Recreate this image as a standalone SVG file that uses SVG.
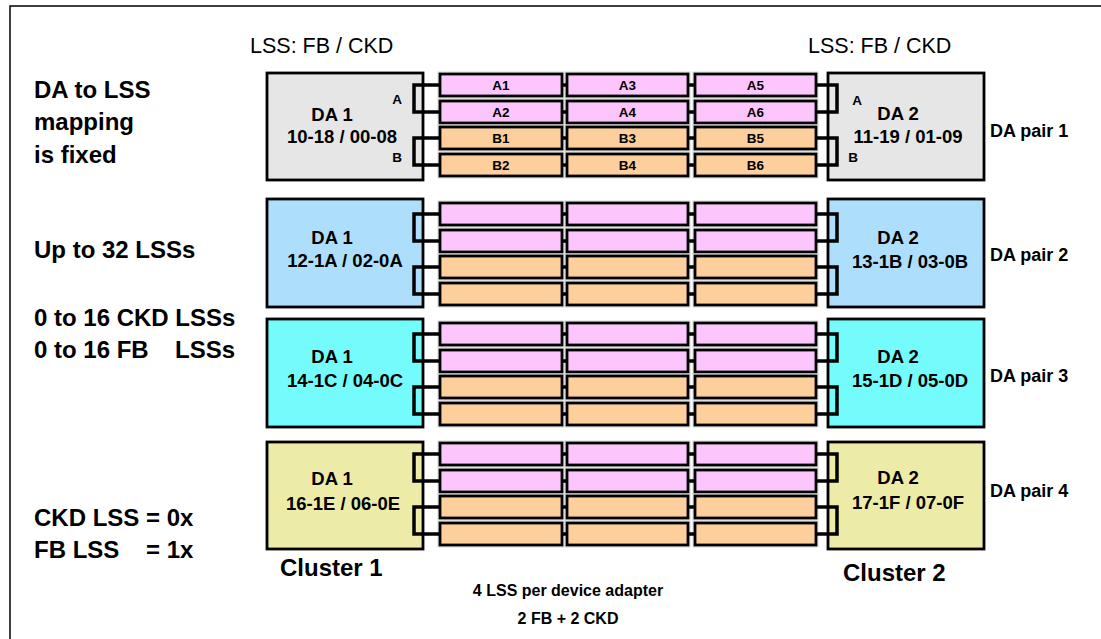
<svg xmlns="http://www.w3.org/2000/svg" width="1101" height="639" viewBox="0 0 1101 639">
<defs>
<style>
text{font-family:"Liberation Sans",Arial,sans-serif;fill:#000}
.da{stroke:#000;stroke-width:2.8}
.g{fill:#e6e6e6}.bl{fill:#addffc}.cy{fill:#74fcfc}.kh{fill:#ececa8}
.lss{stroke:#000;stroke-width:2.8}
.sh{fill:none;stroke:#d4d4d4;stroke-width:1}
.pa{fill:#fcc6fc}.pb{fill:#fdcf9c}
.con{fill:none;stroke:#000;stroke-width:3.5}
.dat{font-size:18.5px;font-weight:bold;text-anchor:middle}
.lt{font-size:13.5px;font-weight:bold;text-anchor:middle}
.side{font-size:24px;font-weight:bold}
.clu{font-size:24px;font-weight:bold}
.pair{font-size:18px;font-weight:bold}
.bot{font-size:16px;font-weight:bold;text-anchor:middle}
</style>
<g id="lssrow">
<rect class="sh" x="438" y="-2" width="126" height="26"/><rect class="lss pa" x="440" y="0" width="122" height="22"/>
<rect class="sh" x="565" y="-2" width="125" height="26"/><rect class="lss pa" x="567" y="0" width="121" height="22"/>
<rect class="sh" x="693" y="-2" width="125" height="26"/><rect class="lss pa" x="695" y="0" width="121" height="22"/>
<rect class="sh" x="438" y="25" width="126" height="26"/><rect class="lss pa" x="440" y="27" width="122" height="22"/>
<rect class="sh" x="565" y="25" width="125" height="26"/><rect class="lss pa" x="567" y="27" width="121" height="22"/>
<rect class="sh" x="693" y="25" width="125" height="26"/><rect class="lss pa" x="695" y="27" width="121" height="22"/>
<rect class="sh" x="438" y="51" width="126" height="26"/><rect class="lss pb" x="440" y="53" width="122" height="22"/>
<rect class="sh" x="565" y="51" width="125" height="26"/><rect class="lss pb" x="567" y="53" width="121" height="22"/>
<rect class="sh" x="693" y="51" width="125" height="26"/><rect class="lss pb" x="695" y="53" width="121" height="22"/>
<rect class="sh" x="438" y="78" width="126" height="26"/><rect class="lss pb" x="440" y="80" width="122" height="22"/>
<rect class="sh" x="565" y="78" width="125" height="26"/><rect class="lss pb" x="567" y="80" width="121" height="22"/>
<rect class="sh" x="693" y="78" width="125" height="26"/><rect class="lss pb" x="695" y="80" width="121" height="22"/>
</g>
<path id="conrow" class="con" d="M440,11H414V38H440M440,64H414V91H440M816,11H837V38H816M816,64H837V91H816M562,11H567M688,11H695M562,38H567M688,38H695M562,64H567M688,64H695M562,91H567M688,91H695"/>
</defs>

<path d="M10,639V6H1101" fill="none" stroke="#000" stroke-width="1.5"/>

<text x="250" y="53" style="font-size:21.5px">LSS: FB / CKD</text>
<text x="808" y="53" style="font-size:21.5px">LSS: FB / CKD</text>

<g id="side-text">
<text class="side" x="34" y="98">DA to LSS</text>
<text class="side" x="34" y="130">mapping</text>
<text class="side" x="34" y="163">is fixed</text>
<text class="side" x="34" y="258">Up to 32 LSSs</text>
<text class="side" x="34" y="326">0 to 16 CKD LSSs</text>
<text class="side" x="34" y="358">0 to 16 FB<tspan x="175">LSSs</tspan></text>
<text class="side" x="34" y="526">CKD LSS = 0x</text>
<text class="side" x="34" y="558">FB LSS<tspan x="146">= 1x</tspan></text>
</g>

<g id="da1-pair1"><rect class="da g" x="267" y="73" width="156" height="107"/><text class="dat" x="332" y="121">DA 1</text><text class="dat" x="342" y="143">10-18 / 00-08</text><text class="lt" x="397" y="104">A</text><text class="lt" x="397" y="162">B</text></g>
<g id="da2-pair1"><rect class="da g" x="828" y="73" width="156" height="107"/><text class="dat" x="898" y="120">DA 2</text><text class="dat" x="908" y="143">11-19 / 01-09</text><text class="lt" x="857" y="105">A</text><text class="lt" x="853" y="162">B</text></g>
<g id="da1-pair2"><rect class="da bl" x="267" y="199" width="156" height="108"/><text class="dat" x="332" y="244">DA 1</text><text class="dat" x="345" y="267">12-1A / 02-0A</text></g>
<g id="da2-pair2"><rect class="da bl" x="828" y="199" width="156" height="108"/><text class="dat" x="898" y="244">DA 2</text><text class="dat" x="910" y="268">13-1B / 03-0B</text></g>
<g id="da1-pair3"><rect class="da cy" x="267" y="319" width="156" height="108"/><text class="dat" x="332" y="363">DA 1</text><text class="dat" x="345" y="387">14-1C / 04-0C</text></g>
<g id="da2-pair3"><rect class="da cy" x="828" y="319" width="156" height="108"/><text class="dat" x="898" y="363">DA 2</text><text class="dat" x="910" y="387">15-1D / 05-0D</text></g>
<g id="da1-pair4"><rect class="da kh" x="267" y="442" width="156" height="107"/><text class="dat" x="332" y="485">DA 1</text><text class="dat" x="343" y="510">16-1E / 06-0E</text></g>
<g id="da2-pair4"><rect class="da kh" x="828" y="442" width="156" height="107"/><text class="dat" x="898" y="484">DA 2</text><text class="dat" x="908" y="509">17-1F / 07-0F</text></g>

<g id="lss-pair1"><use href="#lssrow" y="74"/>
<text class="lt" x="501" y="90">A1</text><text class="lt" x="627.5" y="90">A3</text><text class="lt" x="755.5" y="90">A5</text>
<text class="lt" x="501" y="117">A2</text><text class="lt" x="627.5" y="117">A4</text><text class="lt" x="755.5" y="117">A6</text>
<text class="lt" x="501" y="143">B1</text><text class="lt" x="627.5" y="143">B3</text><text class="lt" x="755.5" y="143">B5</text>
<text class="lt" x="501" y="170">B2</text><text class="lt" x="627.5" y="170">B4</text><text class="lt" x="755.5" y="170">B6</text>
</g>
<g id="lss-pair2"><use href="#lssrow" y="203"/></g>
<g id="lss-pair3"><use href="#lssrow" y="323"/></g>
<g id="lss-pair4"><use href="#lssrow" y="443"/></g>

<g id="connectors">
<use href="#conrow" y="74"/>
<use href="#conrow" y="203"/>
<use href="#conrow" y="323"/>
<use href="#conrow" y="443"/>
</g>

<g id="labels">
<text class="pair" x="990" y="137">DA pair 1</text>
<text class="pair" x="990" y="261">DA pair 2</text>
<text class="pair" x="990" y="382">DA pair 3</text>
<text class="pair" x="990" y="497">DA pair 4</text>
<text class="clu" x="280" y="576">Cluster 1</text>
<text class="clu" x="843" y="581">Cluster 2</text>
<text class="bot" x="568" y="596">4 LSS per device adapter</text>
<text class="bot" x="568" y="624">2 FB + 2 CKD</text>
</g>
</svg>
